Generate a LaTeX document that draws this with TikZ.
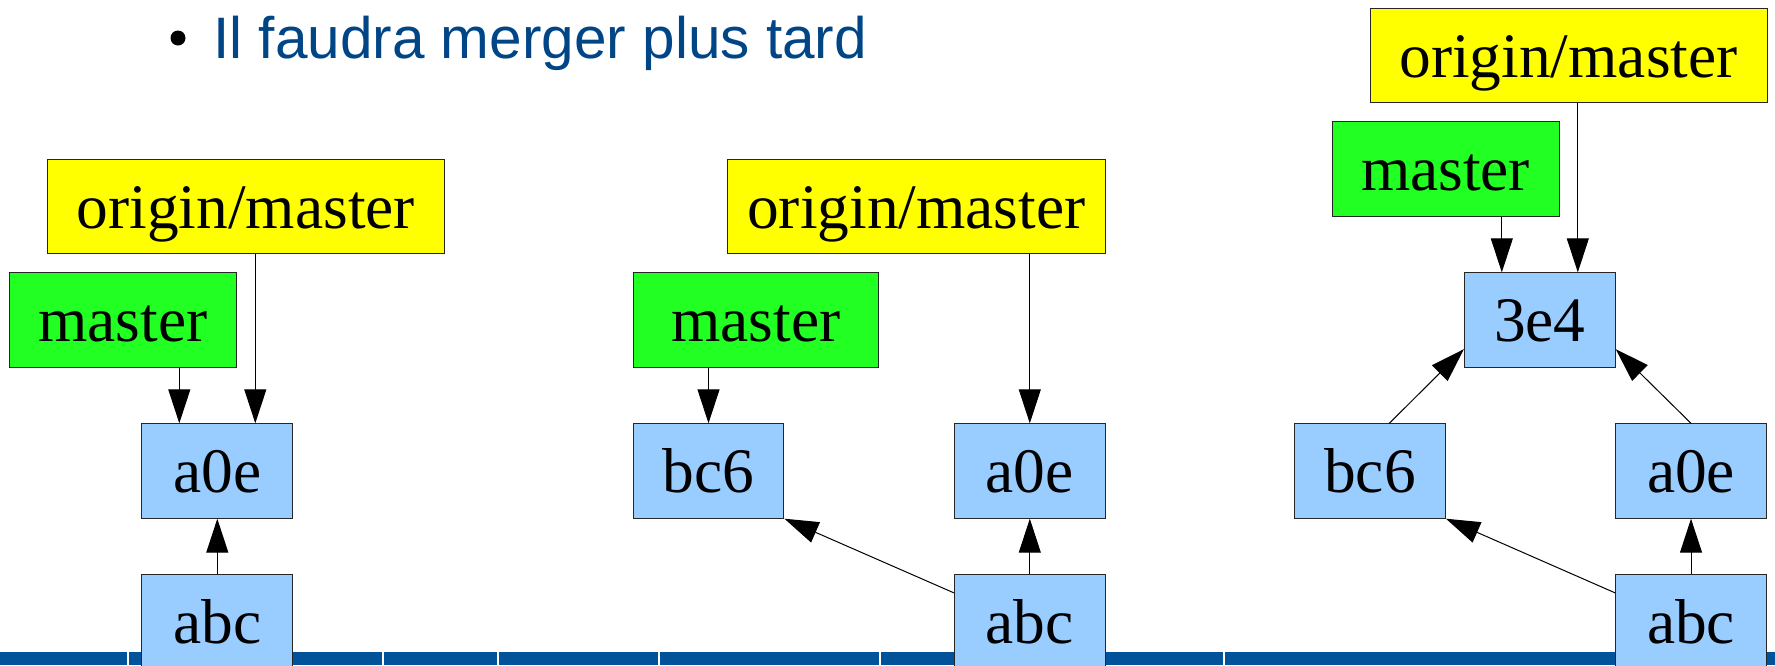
\documentclass[tikz,border=0pt]{standalone}
\usepackage{fontspec}
\setmainfont{Liberation Serif}
\newfontfamily\slidefont{Liberation Sans}
\usetikzlibrary{arrows.meta}

\definecolor{slideblue}{RGB}{0,69,134}
\definecolor{barblue}{RGB}{0,83,155}
\definecolor{commitblue}{RGB}{153,204,255}
\definecolor{branchgreen}{RGB}{34,255,34}
\definecolor{remoteyellow}{RGB}{255,255,0}

\begin{document}
\begin{tikzpicture}[x=0.5pt,y=-0.5pt,
    box/.style={rectangle,draw=black!85,line width=0.5pt,minimum height=47.2pt,
        text height=21.5pt,text depth=0pt,font=\fontsize{31.7}{38}\selectfont},
    commit/.style={box,fill=commitblue,minimum width=75.4pt},
    branch/.style={box,fill=branchgreen},
    remote/.style={box,fill=remoteyellow},
    arr/.style={draw,line width=0.5pt,-{Triangle[length=17pt,width=11pt]}}
]
    \useasboundingbox (0,0) rectangle (1775,665);

    % bande du bas
    \fill[barblue] (0,652) rectangle (1775,665);
    \foreach \x in {128,383,498,659,880,1224}
        \draw[white,line width=1pt] (\x,652) -- (\x,665);

    % titre
    \node[circle,fill=black,inner sep=0pt,minimum size=7.5pt] (puce) at (178,38) {};
    \node[anchor=base west,inner sep=0pt,text=slideblue,
        font=\slidefont\fontsize{29.25}{35}\selectfont] (titre) at (213,58) {Il faudra merger plus tard};

    % avant le fetch
    \node[remote,minimum width=198.5pt] (om1) at (245.8,206.7) {origin/master};
    \node[branch,minimum width=113.7pt] (m1) at (123,320) {master};
    \node[commit] (a1) at (217.3,471) {a0e};
    \node[commit] (c1) at (217.3,622) {abc};
    \coordinate (a1l) at ([xshift=-19pt]a1.north);
    \coordinate (a1r) at ([xshift=19pt]a1.north);
    \draw[arr] (m1.south -| a1l) -- (a1l);
    \draw[arr] (om1.south -| a1r) -- (a1r);
    \draw[arr] (c1.north) -- (a1.south);

    % apres le fetch
    \node[remote,minimum width=189.3pt] (om2) at (916.3,206.5) {origin/master};
    \node[branch,minimum width=122.8pt] (m2) at (755.8,320) {master};
    \node[commit] (b2) at (708.5,471) {bc6};
    \node[commit] (a2) at (1029.8,471) {a0e};
    \node[commit] (c2) at (1029.8,622) {abc};
    \draw[arr] (m2.south -| b2) -- (b2.north);
    \draw[arr] (om2.south -| a2) -- (a2.north);
    \draw[arr] (c2.north) -- (a2.south);
    \draw[arr] (c2.159) -- (b2.south east);

    % apres le merge
    \node[remote,minimum width=198.5pt] (om3) at (1568.5,55.5) {origin/master};
    \node[branch,minimum width=113.5pt] (m3) at (1445.5,169) {master};
    \node[commit] (e3) at (1539.8,320) {3e4};
    \node[commit] (b3) at (1370,471) {bc6};
    \node[commit] (a3) at (1691,471) {a0e};
    \node[commit] (c3) at (1691,622) {abc};
    \coordinate (e3l) at ([xshift=-19pt]e3.north);
    \coordinate (e3r) at ([xshift=19pt]e3.north);
    \draw[arr] (m3.south -| e3l) -- (e3l);
    \draw[arr] (om3.south -| e3r) -- (e3r);
    \draw[arr] (b3.68) -- (e3.201);
    \draw[arr] (a3.north) -- (e3.339);
    \draw[arr] (c3.north) -- (a3.south);
    \draw[arr] (c3.159) -- (b3.south east);

\end{tikzpicture}
\end{document}
